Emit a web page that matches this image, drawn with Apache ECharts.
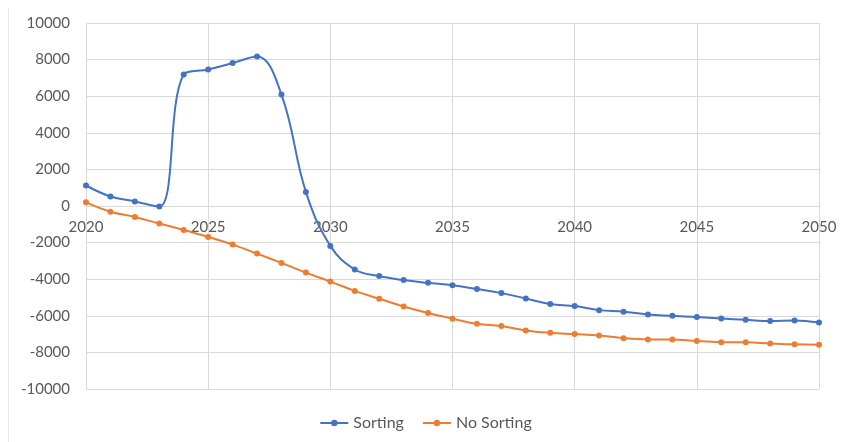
<!DOCTYPE html>
<html>
<head>
<meta charset="utf-8">
<script src="https://cdn.jsdelivr.net/npm/echarts@6/dist/echarts.min.js"></script>
<style>
html,body{margin:0;padding:0;background:#fff;}
#chart{width:851px;height:442px;}
</style>
</head>
<body>
<div id="chart"></div>
<script>
const years = [2020,2021,2022,2023,2024,2025,2026,2027,2028,2029,2030,2031,2032,2033,2034,2035,2036,2037,2038,2039,2040,2041,2042,2043,2044,2045,2046,2047,2048,2049,2050];
const sorting = [1120,520,250,-30,7180,7460,7810,8170,6090,770,-2180,-3470,-3830,-4050,-4200,-4330,-4540,-4760,-5050,-5350,-5470,-5690,-5780,-5930,-6000,-6070,-6150,-6220,-6290,-6250,-6360];
const noSorting = [200,-310,-600,-960,-1310,-1690,-2110,-2600,-3110,-3640,-4130,-4640,-5070,-5490,-5850,-6160,-6440,-6560,-6800,-6930,-7000,-7070,-7220,-7290,-7290,-7380,-7440,-7450,-7510,-7560,-7580];
const seriesNames = ['Sorting','No Sorting'];

const chart = echarts.init(document.getElementById('chart'), null, {renderer:'canvas'});
const font = 'Lato, "Liberation Sans", sans-serif';
const txt = '#595959';
const grid = '#d9d9d9';
chart.setOption({
  animation:false,
  backgroundColor:'#fff',
  textStyle:{fontFamily:font},
  graphic:[{type:'line',shape:{x1:8.5,y1:8,x2:8.5,y2:442},style:{stroke:'#e6e6e6',lineWidth:1}}],
  grid:{left:86,right:32,top:23,bottom:53,containLabel:false},
  legend:{
    bottom:6,left:'center',
    itemWidth:28,itemHeight:8,itemGap:18,
    textStyle:{color:txt,fontSize:16,fontFamily:font},
    data:seriesNames
  },
  xAxis:{
    type:'value',min:2020,max:2050,interval:5,
    offset:-183,
    axisLine:{onZero:false,lineStyle:{color:grid,width:1}},
    axisTick:{show:false},
    axisLabel:{color:txt,fontSize:15,fontFamily:font,margin:14,formatter:v=>String(v)},
    splitLine:{show:true,lineStyle:{color:grid,width:1}}
  },
  yAxis:{
    type:'value',min:-10000,max:10000,interval:2000,
    axisLine:{show:false,onZero:false},
    axisTick:{show:false},
    axisLabel:{color:txt,fontSize:15,fontFamily:font,margin:16,formatter:v=>String(v)},
    splitLine:{show:true,lineStyle:{color:grid,width:1}}
  },
  series:[
    {name:seriesNames[0],type:'line',smooth:0.4,data:years.map((y,i)=>[y,sorting[i]]),
     symbol:'circle',symbolSize:6,color:'#4472c4',lineStyle:{width:2,color:'#4472c4'},itemStyle:{color:'#4472c4'},z:3},
    {name:seriesNames[1],type:'line',smooth:0.4,data:years.map((y,i)=>[y,noSorting[i]]),
     symbol:'circle',symbolSize:6,color:'#ed7d31',lineStyle:{width:2,color:'#ed7d31'},itemStyle:{color:'#ed7d31'},z:2}
  ]
});
</script>
</body>
</html>
